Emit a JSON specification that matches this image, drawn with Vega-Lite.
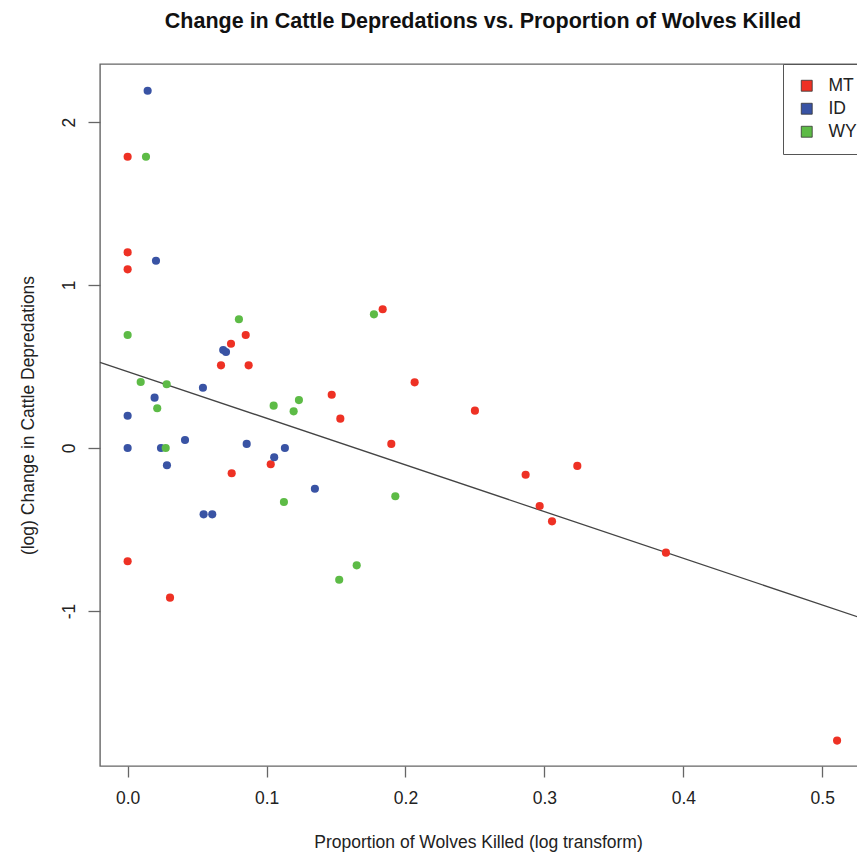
{
  "$schema": "https://vega.github.io/schema/vega-lite/v6.json",
  "autosize": {"type": "none"},
  "width": 760,
  "height": 702,
  "padding": {"left": 100, "top": 64, "right": 0, "bottom": 87},
  "background": "white",
  "title": {
    "text": "Change in Cattle Depredations vs. Proportion of Wolves Killed",
    "font": "Liberation Sans",
    "fontSize": 21.5,
    "fontWeight": "bold",
    "color": "#111",
    "anchor": "middle",
    "dx": 3,
    "offset": 31
  },
  "config": {
    "view": {"stroke": "#666", "strokeWidth": 1.4},
    "axis": {
      "labelFont": "Liberation Sans",
      "titleFont": "Liberation Sans",
      "labelFontSize": 17.5,
      "titleFontSize": 17.5,
      "titleFontWeight": "normal",
      "labelColor": "#222",
      "titleColor": "#222",
      "tickColor": "#666",
      "tickWidth": 1.3,
      "grid": false,
      "domain": false
    }
  },
  "datasets": {
    "pts": [
      {"x": 0, "y": 1.787, "state": "MT"},
      {"x": 0, "y": 1.2, "state": "MT"},
      {"x": 0, "y": 1.096, "state": "MT"},
      {"x": 0, "y": -0.695, "state": "MT"},
      {"x": 0.0305, "y": -0.918, "state": "MT"},
      {"x": 0.0672, "y": 0.507, "state": "MT"},
      {"x": 0.0744, "y": 0.64, "state": "MT"},
      {"x": 0.085, "y": 0.693, "state": "MT"},
      {"x": 0.0871, "y": 0.507, "state": "MT"},
      {"x": 0.0749, "y": -0.155, "state": "MT"},
      {"x": 0.103, "y": -0.1, "state": "MT"},
      {"x": 0.1469, "y": 0.327, "state": "MT"},
      {"x": 0.1531, "y": 0.18, "state": "MT"},
      {"x": 0.1836, "y": 0.851, "state": "MT"},
      {"x": 0.1898, "y": 0.025, "state": "MT"},
      {"x": 0.2066, "y": 0.403, "state": "MT"},
      {"x": 0.25, "y": 0.229, "state": "MT"},
      {"x": 0.2865, "y": -0.164, "state": "MT"},
      {"x": 0.2966, "y": -0.356, "state": "MT"},
      {"x": 0.3055, "y": -0.45, "state": "MT"},
      {"x": 0.3237, "y": -0.11, "state": "MT"},
      {"x": 0.3875, "y": -0.642, "state": "MT"},
      {"x": 0.5107, "y": -1.795, "state": "MT"},
      {"x": 0.0144, "y": 2.192, "state": "ID"},
      {"x": 0.0204, "y": 1.149, "state": "ID"},
      {"x": 0, "y": 0.198, "state": "ID"},
      {"x": 0, "y": 0, "state": "ID"},
      {"x": 0.0194, "y": 0.309, "state": "ID"},
      {"x": 0.024, "y": 0, "state": "ID"},
      {"x": 0.0283, "y": -0.106, "state": "ID"},
      {"x": 0.0413, "y": 0.049, "state": "ID"},
      {"x": 0.0542, "y": 0.37, "state": "ID"},
      {"x": 0.0547, "y": -0.407, "state": "ID"},
      {"x": 0.0609, "y": -0.407, "state": "ID"},
      {"x": 0.0688, "y": 0.601, "state": "ID"},
      {"x": 0.0708, "y": 0.589, "state": "ID"},
      {"x": 0.0857, "y": 0.025, "state": "ID"},
      {"x": 0.1055, "y": -0.057, "state": "ID"},
      {"x": 0.1132, "y": 0, "state": "ID"},
      {"x": 0.1348, "y": -0.25, "state": "ID"},
      {"x": 0.0132, "y": 1.787, "state": "WY"},
      {"x": 0, "y": 0.693, "state": "WY"},
      {"x": 0.0094, "y": 0.405, "state": "WY"},
      {"x": 0.0281, "y": 0.391, "state": "WY"},
      {"x": 0.0213, "y": 0.244, "state": "WY"},
      {"x": 0.0274, "y": 0, "state": "WY"},
      {"x": 0.0801, "y": 0.79, "state": "WY"},
      {"x": 0.1051, "y": 0.26, "state": "WY"},
      {"x": 0.1195, "y": 0.225, "state": "WY"},
      {"x": 0.1233, "y": 0.294, "state": "WY"},
      {"x": 0.1125, "y": -0.331, "state": "WY"},
      {"x": 0.1773, "y": 0.82, "state": "WY"},
      {"x": 0.1927, "y": -0.296, "state": "WY"},
      {"x": 0.1649, "y": -0.72, "state": "WY"},
      {"x": 0.1523, "y": -0.808, "state": "WY"}
    ],
    "fit": [
      {"x": -0.0199, "y": 0.526},
      {"x": 0.5272, "y": -1.041}
    ]
  },
  "layer": [
    {
      "data": {"name": "fit"},
      "mark": {"type": "line", "color": "#444", "strokeWidth": 1.3},
      "encoding": {
        "x": {"field": "x", "type": "quantitative"},
        "y": {"field": "y", "type": "quantitative"}
      }
    },
    {
      "data": {"name": "pts"},
      "mark": {"type": "circle", "size": 66, "opacity": 1},
      "encoding": {
        "x": {
          "field": "x",
          "type": "quantitative",
          "scale": {"domain": [-0.0199, 0.5272], "nice": false, "zero": false},
          "axis": {
            "values": [0, 0.1, 0.2, 0.3, 0.4, 0.5],
            "format": ".1f",
            "tickSize": 11,
            "labelPadding": 12,
            "title": "Proportion of Wolves Killed (log transform)",
            "titleX": 378,
            "titleY": 76,
            "titleAnchor": "middle",
            "titleBaseline": "middle"
          }
        },
        "y": {
          "field": "y",
          "type": "quantitative",
          "scale": {"domain": [-1.951, 2.356], "nice": false, "zero": false},
          "axis": {
            "values": [-1, 0, 1, 2],
            "labelExpr": "datum.value + ''",
            "labelAngle": -90,
            "tickSize": 12,
            "labelPadding": 10,
            "title": "(log) Change in Cattle Depredations",
            "titleX": -72,
            "titleY": 351,
            "titleAngle": -90,
            "titleAlign": "center",
            "titleBaseline": "middle"
          }
        },
        "color": {
          "field": "state",
          "type": "nominal",
          "scale": {"domain": ["MT", "ID", "WY"], "range": ["#EE3124", "#3953A4", "#5DBB46"]},
          "legend": {
            "title": null,
            "orient": "none",
            "legendX": 683,
            "legendY": 0,
            "symbolType": "square",
            "symbolSize": 120,
            "symbolStrokeColor": "#333",
            "symbolStrokeWidth": 0.8,
            "symbolOffset": 2,
            "labelOffset": 13,
            "labelFont": "Liberation Sans",
            "labelFontSize": 17.5,
            "labelColor": "#222",
            "rowPadding": 4,
            "padding": 13,
            "strokeColor": "#555",
            "fillColor": "white"
          }
        }
      }
    }
  ]
}
